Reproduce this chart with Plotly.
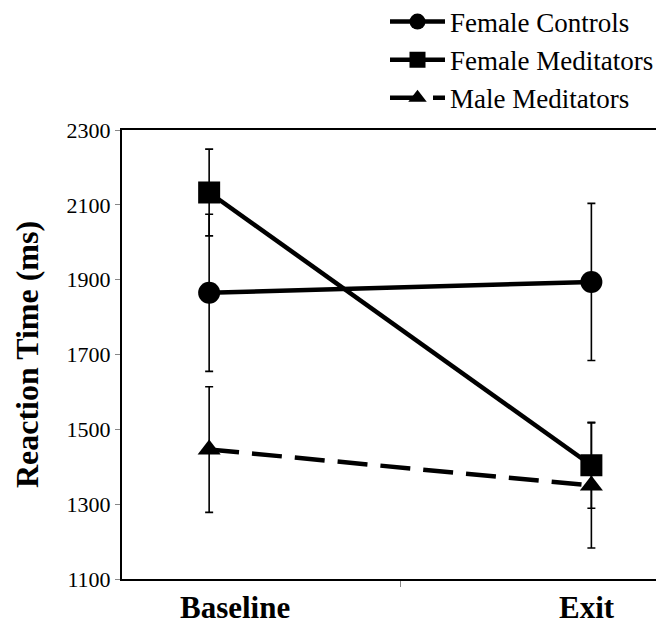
import plotly.graph_objects as go

categories = ["Baseline", "Exit"]
series_names = ["Female Controls", "Female Meditators", "Male Meditators"]
female_controls = [1865, 1894]
female_controls_err = [210, 210]
female_meditators = [2133, 1404]
female_meditators_err = [116, 115]
male_meditators = [1446, 1350]
male_meditators_err = [168, 167]
y_ticks = [1100, 1300, 1500, 1700, 1900, 2100, 2300]

FONT = "Liberation Serif"

fig = go.Figure()

def add(name, vals, errs, symbol, size, dash):
    fig.add_trace(go.Scatter(
        x=categories, y=vals, name=name, mode="lines+markers",
        line=dict(color="black", width=4.5, dash=dash),
        marker=dict(symbol=symbol, size=size, color="black"),
        error_y=dict(type="data", array=errs, visible=True,
                     color="black", thickness=1.6, width=4),
    ))

add(series_names[0], female_controls, female_controls_err, "circle", 22, "solid")
add(series_names[1], female_meditators, female_meditators_err, "square", 22, "solid")
add(series_names[2], male_meditators, male_meditators_err, "triangle-up", 20, "30px,13px")

# category labels, offset like in the original figure
label_shifts = [26, -4]
for cat, dx in zip(categories, label_shifts):
    fig.add_annotation(
        x=cat, xref="x", y=0, yref="paper", yanchor="top", xanchor="center",
        xshift=dx, yshift=-9, showarrow=False, text="<b>%s</b>" % cat,
        font=dict(size=31, family=FONT, color="black"),
    )

# page body has an 8px margin, so the figure is sized/offset to compensate
fig.update_layout(
    width=656, height=614,
    margin=dict(l=114, r=0, t=122, b=43, autoexpand=False),
    paper_bgcolor="white", plot_bgcolor="white",
    font=dict(family=FONT, color="black"),
    showlegend=True,
    legend=dict(x=377 / 656, xanchor="left", y=1.295, yanchor="top",
                yref="paper", xref="container",
                font=dict(size=27, family=FONT, color="black"),
                itemwidth=55,
                bgcolor="rgba(0,0,0,0)"),
    xaxis=dict(
        type="category", range=[-0.228, 1.19],
        showline=True, linecolor="black", linewidth=2, mirror=True,
        showgrid=False, zeroline=False, showticklabels=False,
        ticks="outside", tickson="boundaries", ticklen=6, tickcolor="#888",
    ),
    yaxis=dict(
        range=[1100, 2300], tickvals=y_ticks,
        showline=True, linecolor="black", linewidth=2,
        showgrid=False, zeroline=False,
        ticks="outside", ticklen=5, tickcolor="#888",
        tickfont=dict(size=22, family=FONT, color="black"),
        title=dict(text="Reaction Time (ms)", standoff=18,
                   font=dict(size=32, family=FONT, color="black", weight="bold")),
    ),
)

fig.write_html("out.html")
